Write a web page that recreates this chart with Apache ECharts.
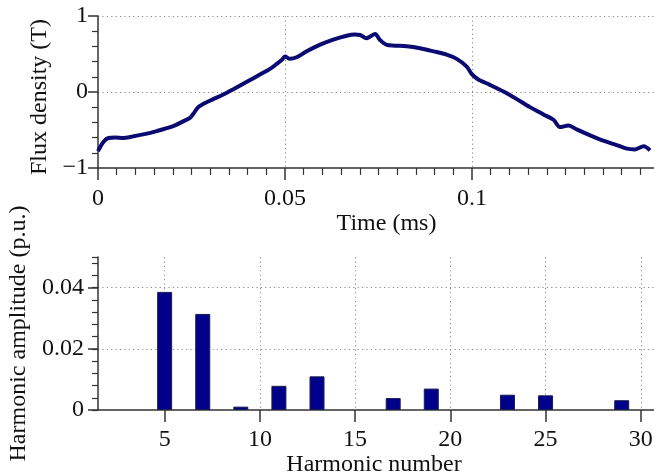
<!DOCTYPE html>
<html>
<head>
<meta charset="utf-8">
<script src="https://cdn.jsdelivr.net/npm/echarts@6/dist/echarts.min.js"></script>
<style>html,body{margin:0;padding:0;background:#fff}#c{width:654px;height:474px}</style>
</head>
<body>
<div id="c"></div>
<script>
// ---- Data ----
const timeMs = [0, 0.0014, 0.0028, 0.0045, 0.0068, 0.0094, 0.0121, 0.0157, 0.0201, 0.0224, 0.0246, 0.0255, 0.0268, 0.0282, 0.0308, 0.0335, 0.0362, 0.0398, 0.0433, 0.046, 0.0478, 0.0491, 0.05, 0.0513, 0.0531, 0.0558, 0.0594, 0.0629, 0.0665, 0.0687, 0.0701, 0.0718, 0.0727, 0.0741, 0.0754, 0.0772, 0.0794, 0.0825, 0.0861, 0.0897, 0.0932, 0.0959, 0.0986, 0.0999, 0.1017, 0.1048, 0.1084, 0.112, 0.1155, 0.1191, 0.1218, 0.1235, 0.1258, 0.128, 0.1316, 0.1351, 0.1387, 0.1414, 0.1436, 0.1459, 0.1476];
const fluxDensity = [-0.777, -0.66, -0.606, -0.60, -0.606, -0.584, -0.558, -0.514, -0.449, -0.396, -0.339, -0.286, -0.199, -0.155, -0.094, -0.033, 0.037, 0.134, 0.23, 0.304, 0.37, 0.42, 0.466, 0.436, 0.457, 0.535, 0.623, 0.689, 0.741, 0.755, 0.75, 0.706, 0.728, 0.764, 0.685, 0.619, 0.61, 0.601, 0.575, 0.535, 0.492, 0.436, 0.335, 0.239, 0.164, 0.094, 0.007, -0.094, -0.199, -0.295, -0.365, -0.462, -0.44, -0.492, -0.571, -0.641, -0.698, -0.745, -0.755, -0.715, -0.768];

const harmonicNumber = [5, 7, 9, 11, 13, 17, 19, 23, 25, 29];
const harmonicAmplitude = [0.0386, 0.0314, 0.0011, 0.0079, 0.011, 0.0039, 0.007, 0.005, 0.0048, 0.0032];

// ---- Styling ----
const FONT = 'Liberation Serif';
const AX = '#333';
const txt = {color: '#111', fontFamily: FONT, fontSize: 24};
const dotStyle = {color: '#8a8a8a', width: 1, type: [1.2, 3.2]};

const chart = echarts.init(document.getElementById('c'), null, {renderer: 'canvas'});
chart.setOption({
  animation: false,
  backgroundColor: '#fff',
  grid: [
    {left: 98, top: 16, width: 561, height: 152, containLabel: false, outerBoundsMode: 'none'},
    {left: 98, top: 257, width: 558, height: 153, containLabel: false, outerBoundsMode: 'none'}
  ],
  xAxis: [
    {
      type: 'value', gridIndex: 0, min: 0, max: 0.15, interval: 0.05,
      name: 'Time (ms)', nameLocation: 'middle', nameGap: 39,
      nameTextStyle: Object.assign({}, txt, {padding: [0, 0, 0, 16]}),
      axisLine: {show: true, onZero: false, lineStyle: {color: AX, width: 1.5}},
      axisTick: {show: true, inside: false, length: 12, lineStyle: {color: AX, width: 1.5}},
      minorTick: {show: true, splitNumber: 10, length: 7, lineStyle: {color: AX, width: 1.2}},
      axisLabel: Object.assign({}, txt, {margin: 19, showMaxLabel: false}),
      splitLine: {show: true, lineStyle: dotStyle, showMinLine: false, showMaxLine: false}
    },
    {
      type: 'value', gridIndex: 1, min: 1.5, max: 30.8, splitNumber: 6,
      name: 'Harmonic number', nameLocation: 'middle', nameGap: 33,
      nameTextStyle: Object.assign({}, txt, {padding: [0, 6, 0, 0]}),
      axisLine: {show: true, onZero: false, lineStyle: {color: AX, width: 1.5}},
      axisTick: {show: true, inside: false, length: 12, lineStyle: {color: AX, width: 1.5}},
      axisLabel: Object.assign({}, txt, {margin: 18, showMinLabel: false, showMaxLabel: false}),
      splitLine: {show: true, lineStyle: dotStyle, showMinLine: false, showMaxLine: false}
    }
  ],
  yAxis: [
    {
      type: 'value', gridIndex: 0, min: -1, max: 1, interval: 1,
      name: 'Flux density (T)', nameLocation: 'middle', nameGap: 46, nameRotate: 90,
      nameTextStyle: Object.assign({}, txt, {padding: [0, 10, 0, 0]}),
      axisLine: {show: true, onZero: false, lineStyle: {color: AX, width: 1.5}},
      axisTick: {show: true, inside: false, length: 10, lineStyle: {color: AX, width: 1.5}},
      minorTick: {show: true, splitNumber: 5, length: 6, lineStyle: {color: AX, width: 1.2}},
      axisLabel: Object.assign({}, txt, {margin: 10, formatter: v => (v < 0 ? '\u2212' + Math.abs(v) : String(v))}),
      splitLine: {show: true, lineStyle: dotStyle, showMinLine: false, showMaxLine: true}
    },
    {
      type: 'value', gridIndex: 1, min: 0, max: 0.05, interval: 0.02,
      name: 'Harmonic amplitude (p.u.)', nameLocation: 'middle', nameGap: 62, nameRotate: 90,
      nameTextStyle: txt,
      axisLine: {show: true, onZero: false, lineStyle: {color: AX, width: 1.5}},
      axisTick: {show: true, inside: false, length: 10, lineStyle: {color: AX, width: 1.5}},
      axisLabel: Object.assign({}, txt, {margin: 14, showMaxLabel: false, formatter: v => (v === 0 ? '0' : v.toFixed(2))}),
      splitLine: {show: true, lineStyle: dotStyle, showMinLine: false, showMaxLine: false}
    },
    {
      type: 'value', gridIndex: 1, min: 0, max: 0.05, interval: 0.004, position: 'left',
      axisLine: {show: false},
      axisTick: {show: true, inside: false, length: 6, lineStyle: {color: AX, width: 1.2}},
      axisLabel: {show: false},
      splitLine: {show: false}
    }
  ],
  series: [
    {
      type: 'line', xAxisIndex: 0, yAxisIndex: 0,
      data: timeMs.map((t, i) => [t, fluxDensity[i]]),
      showSymbol: false, smooth: 0.3,
      lineStyle: {color: '#0a0a72', width: 4}
    },
    {
      type: 'bar', xAxisIndex: 1, yAxisIndex: 1,
      data: harmonicNumber.map((h, i) => [h, harmonicAmplitude[i]]),
      barWidth: 15,
      itemStyle: {color: '#00008b', borderColor: '#1c1c50', borderWidth: 1}
    }
  ]
});
</script>
</body>
</html>
